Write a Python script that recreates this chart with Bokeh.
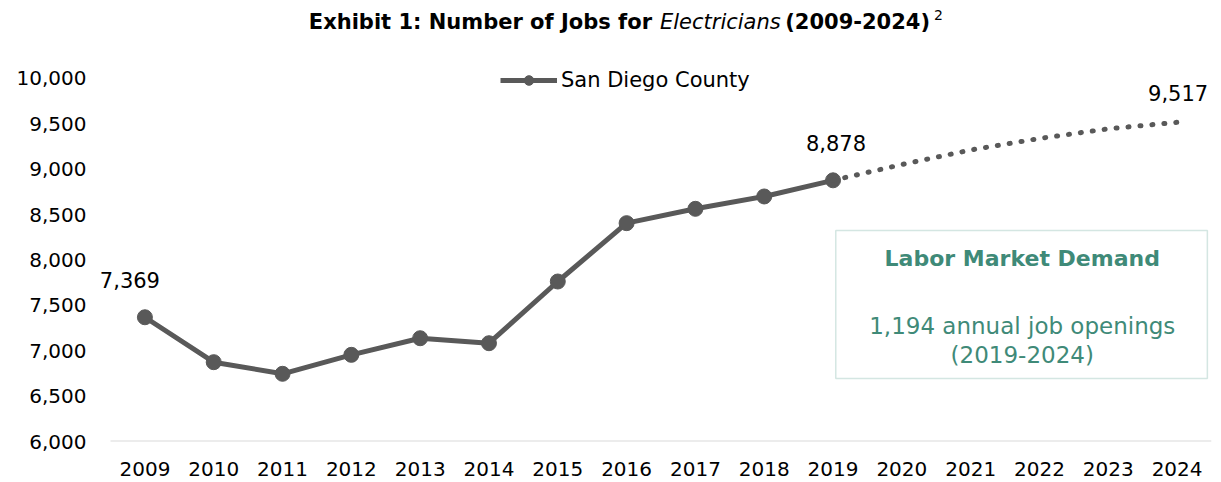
from bokeh.plotting import figure
from bokeh.models import (ColumnDataSource, FixedTicker, NumeralTickFormatter, Range1d,
                          Legend, LegendItem, Label, BoxAnnotation)
from bokeh.core.properties import value
from bokeh.embed import file_html
from bokeh.resources import INLINE

# ---------------- data ----------------
years = ["2009", "2010", "2011", "2012", "2013", "2014", "2015", "2016",
         "2017", "2018", "2019", "2020", "2021", "2022", "2023", "2024"]
actual_years = years[:11]
actual_jobs = [7369, 6874, 6746, 6955, 7138, 7083, 7763, 8406, 8564, 8700, 8878]
proj_years = years[10:]
proj_jobs = [8878, 9052, 9212, 9339, 9446, 9517]
y_ticks = [6000, 6500, 7000, 7500, 8000, 8500, 9000, 9500, 10000]
series_name = "San Diego County"
box_title = "Labor Market Demand"
box_line1 = "1,194 annual job openings"
box_line2 = "(2019-2024)"

FONT = "DejaVu Sans"
GREY = "#595959"
TEAL = "#3F8A78"

idx = {y: i for i, y in enumerate(years)}
src_a = ColumnDataSource(dict(x=[idx[y] for y in actual_years], y=actual_jobs))
src_p = ColumnDataSource(dict(x=[idx[y] for y in proj_years], y=proj_jobs))

x0, x1 = -0.5, len(years) - 0.5
# frame extends a bit left of the first category and up to the top of the canvas
# so that labels, legend and title (drawn inside the frame) are not clipped
p = figure(width=1221, height=482, output_backend="svg", toolbar_location=None,
           x_range=Range1d(x0 - 0.2616, x1), y_range=Range1d(y_ticks[0], 10859.5),
           min_border_left=92, min_border_right=10, min_border_top=0, min_border_bottom=41)
p.outline_line_color = None
p.xgrid.visible = False
p.ygrid.visible = False
p.background_fill_color = "white"
p.border_fill_color = "white"

# axes
xa = p.xaxis[0]
xa.ticker = FixedTicker(ticks=list(range(len(years))))
xa.major_label_overrides = {i: y for i, y in enumerate(years)}
xa.axis_line_color = None
xa.major_tick_line_color = None
xa.minor_tick_line_color = None
xa.major_label_text_font = FONT
xa.major_label_text_font_size = "20px"
xa.major_label_text_color = "black"
xa.major_label_standoff = 14

ya = p.yaxis[0]
ya.ticker = FixedTicker(ticks=y_ticks)
ya.formatter = NumeralTickFormatter(format="0,0")
ya.axis_line_color = None
ya.major_tick_line_color = None
ya.minor_tick_line_color = None
ya.major_label_text_font = FONT
ya.major_label_text_font_size = "20px"
ya.major_label_text_color = "black"
ya.major_label_standoff = 0

# category axis baseline
p.segment(x0=[x0], x1=[x1], y0=[y_ticks[0]], y1=[y_ticks[0]], line_color="#D9D9D9", line_width=2)

# box annotation
p.add_layout(BoxAnnotation(left=10.04, right=15.44, top=8325, bottom=6694,
                           fill_color="white", fill_alpha=1.0,
                           line_color="#70ADA0", line_width=1.5, level="underlay"))
p.add_layout(Label(x=12.75, y=8017, text=box_title, text_align="center", text_baseline="middle",
                   text_font=FONT, text_font_style="bold", text_font_size="22px", text_color=TEAL))
p.add_layout(Label(x=12.75, y=7278, text=box_line1, text_align="center", text_baseline="middle",
                   text_font=FONT, text_font_size="23px", text_color=TEAL))
p.add_layout(Label(x=12.75, y=6948, text=box_line2, text_align="center", text_baseline="middle",
                   text_font=FONT, text_font_size="23px", text_color=TEAL))

# lines
lr = p.line("x", "y", source=src_a, line_color=GREY, line_width=5, line_join="round")
cr = p.scatter("x", "y", source=src_a, size=15, fill_color=GREY, line_color=GREY)
p.line("x", "y", source=src_p, line_color=GREY, line_width=5, line_dash="1 11", line_cap="round")

# data labels
def dlabel(year, val, xo, yo):
    p.text(x=[idx[year]], y=[val], text=[f"{val:,}"], x_offset=xo, y_offset=yo,
           text_align="center", text_baseline="middle", text_font=value(FONT),
           text_font_size="21px", text_color="black")

dlabel(actual_years[0], actual_jobs[0], -15, -37)
dlabel(actual_years[-1], actual_jobs[-1], 3, -37)
dlabel(proj_years[-1], proj_jobs[-1], 1, -29)

# legend
legend = Legend(items=[LegendItem(label=series_name, renderers=[lr, cr])],
                location=(408, 349), orientation="horizontal",
                glyph_width=57, glyph_height=24, label_height=24, label_standoff=4,
                padding=0, margin=0, spacing=0,
                border_line_color=None, background_fill_alpha=0,
                label_text_font=FONT, label_text_font_size="21px", label_text_color="black")
p.add_layout(legend)

# title (mixed styles)
ty = 10628
TS = "21px"
p.add_layout(Label(x=7.369, y=ty, text="Exhibit 1: Number of Jobs for", text_align="right",
                   text_baseline="middle", text_font=FONT, text_font_style="bold",
                   text_font_size=TS, text_color="black"))
p.add_layout(Label(x=7.485, y=ty, text="Electricians", text_align="left",
                   text_baseline="middle", text_font=FONT, text_font_style="italic",
                   text_font_size=TS, text_color="black"))
p.add_layout(Label(x=11.41, y=ty, text="(2009-2024)", text_align="right",
                   text_baseline="middle", text_font=FONT, text_font_style="bold",
                   text_font_size=TS, text_color="black"))
p.add_layout(Label(x=11.468, y=10705, text="2", text_align="left",
                   text_baseline="middle", text_font=FONT,
                   text_font_size="14px", text_color="black"))

open("out.html", "w").write(file_html(p, INLINE))
